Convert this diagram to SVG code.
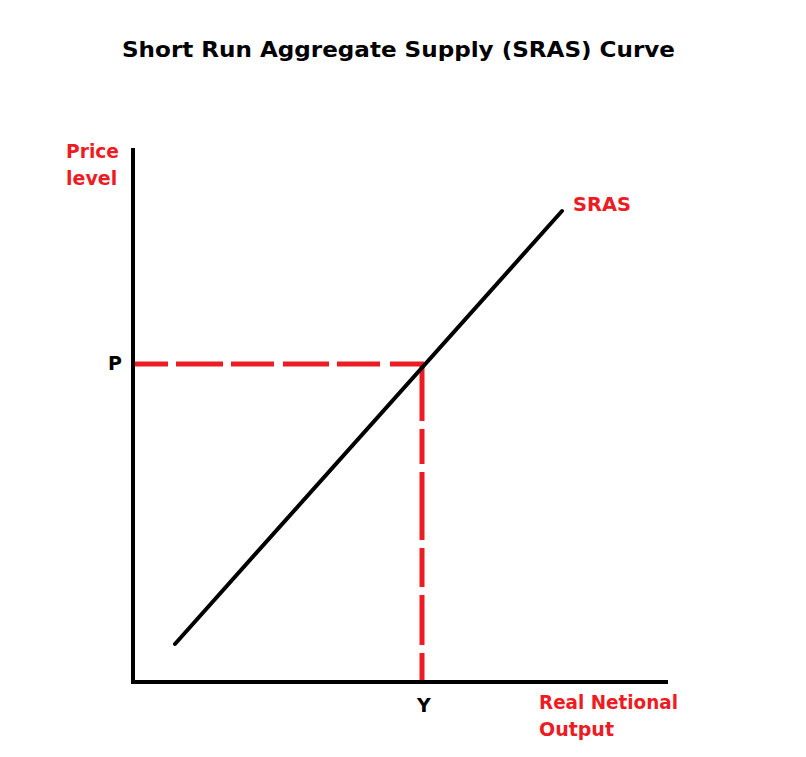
<svg xmlns="http://www.w3.org/2000/svg" width="806" height="757" viewBox="0 0 806 757">
<style>
.t{font-family:"DejaVu Sans","Verdana",sans-serif;font-weight:bold}
.red{fill:#ED1C24;font-size:19px}
.blk{fill:#000;font-size:19px}
.axis{stroke:#000;stroke-width:4;fill:none}
.dash{stroke:#ED1C24;stroke-width:5;fill:none}
</style>
<rect width="806" height="757" fill="#fff"/>
<text class="t" x="122" y="57" font-size="21" fill="#000" textLength="553" lengthAdjust="spacingAndGlyphs">Short Run Aggregate Supply (SRAS) Curve</text>
<g id="axes">
<line class="axis" x1="133" y1="148" x2="133" y2="684"/>
<line class="axis" x1="131" y1="682" x2="668" y2="682"/>
</g>
<g id="connectors">
<line class="dash" x1="135" y1="364" x2="424" y2="364" stroke-dasharray="33 8 47 8 43 9 46 8 43 10 34"/>
<line class="dash" x1="422" y1="362" x2="422" y2="680" stroke-dasharray="59 8 35 8 68 8 39 8 50 8 27"/>
</g>
<g id="sras">
<line x1="175" y1="644" x2="562" y2="211" stroke="#000" stroke-width="4" stroke-linecap="round"/>
<text class="t red" x="573" y="211" textLength="58" lengthAdjust="spacingAndGlyphs">SRAS</text>
</g>
<g id="labels">
<text class="t red" x="66" y="158" textLength="53" lengthAdjust="spacingAndGlyphs">Price</text>
<text class="t red" x="66" y="185">level</text>
<text class="t blk" x="108" y="370">P</text>
<text class="t blk" x="417" y="712">Y</text>
<text class="t red" x="539" y="709" textLength="139" lengthAdjust="spacingAndGlyphs">Real Netional</text>
<text class="t red" x="539" y="736">Output</text>
</g>
</svg>
